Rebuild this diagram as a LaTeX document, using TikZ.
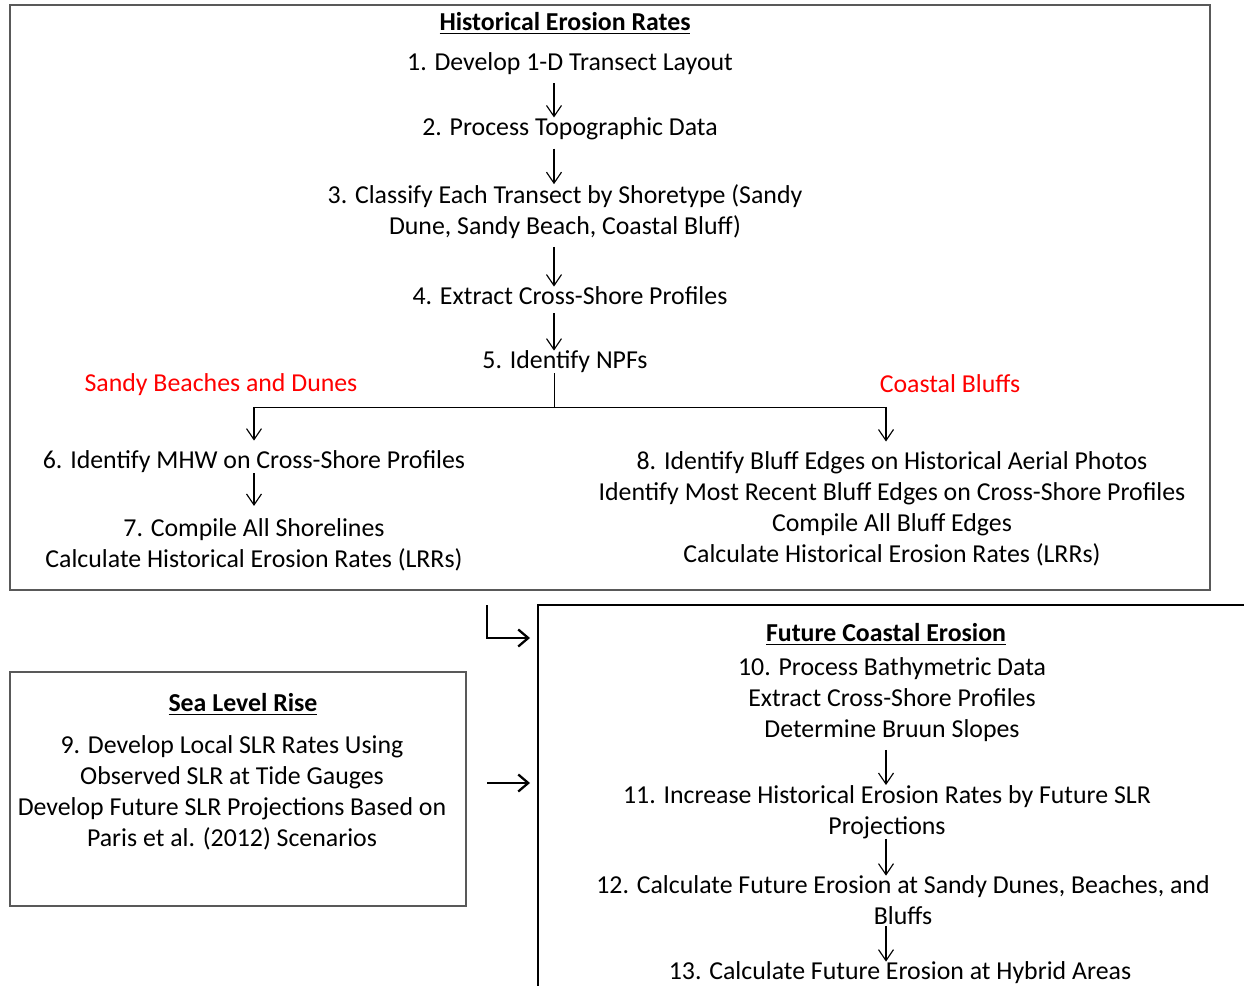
\documentclass[tikz,border=0pt]{standalone}
\usepackage{fontspec}
\setmainfont{Carlito}
\usetikzlibrary{arrows.meta}
\usetikzlibrary{positioning}
\newcommand{\flow}[4][0.16cm]{\draw[arr,shorten <=#1] (#2.south -| #4) -- (#3.north -| #4)}

\begin{document}
\begin{tikzpicture}[x=0.02cm,y=-0.02cm,
    every node/.style={inner sep=0pt, align=center, font=\fontsize{14.7}{17.6}\selectfont},
    arr/.style={-{Straight Barb[length=0.22cm,width=0.3cm]}, line width=0.65pt},
    bigarr/.style={-{Straight Barb[length=0.2cm,width=0.34cm]}, line width=1.3pt},
    side/.style={text=red},
    frame/.style={draw=gray!70!black, line width=0.6pt}]
    \useasboundingbox (0,0) rectangle (1244,986);
    \clip (0,0) rectangle (1244,986);
    % historical erosion rates
    \draw [frame] (10,5) rectangle (1210,590);
    \node (hist) at (565,23) {\underline{\textbf{Historical Erosion Rates}}};
    \node (s1) at (570,64) {1. Develop 1-D Transect Layout};
    \node (s2) at (570,129) {2. Process Topographic Data};
    \node (s3) at (565,211.5) {3. Classify Each Transect by Shoretype (Sandy\\Dune, Sandy Beach, Coastal Bluff)};
    \node (s4) at (570,296) {4. Extract Cross-Shore Profiles};
    \node (s5) at (565,362) {5. Identify NPFs};
    \node [side] (sandy) at (221,385) {Sandy Beaches and Dunes};
    \node [side] (bluffs) at (950,384) {Coastal Bluffs};
    \node (s6) at (254,462) {6. Identify MHW on Cross-Shore Profiles};
    \node (s7) at (254,544.5) {7. Compile All Shorelines\\Calculate Historical Erosion Rates (LRRs)};
    \node (s8) at (892,509) {8. Identify Bluff Edges on Historical Aerial Photos\\Identify Most Recent Bluff Edges on Cross-Shore Profiles\\Compile All Bluff Edges\\Calculate Historical Erosion Rates (LRRs)};
    \coordinate (spine) at (554,0);
    \coordinate (fork) at (554,407);
    \coordinate (forkL) at (254,407);
    \coordinate (forkR) at (886,407);
    \flow{s1}{s2}{spine};
    \flow{s2}{s3}{spine};
    \flow{s3}{s4}{spine};
    \flow{s4}{s5}{spine};
    \draw (s5.south -| spine) -- (fork);
    \draw (forkL) -- (forkR);
    \draw [arr, shorten >=0.2cm] (forkL) -- (s6.north -| forkL);
    \draw [arr, shorten >=0.2cm] (forkR) -- (s8.north -| forkR);
    \draw [arr, shorten >=0.24cm] (s6.south -| forkL) -- (s7.north -| forkL);
    % sea level rise
    \draw [frame] (10,672) rectangle (466,906);
    \node (slr) at (243,704) {\underline{\textbf{Sea Level Rise}}};
    \node (s9) at (232,793) {9. Develop Local SLR Rates Using\\Observed SLR at Tide Gauges\\Develop Future SLR Projections Based on\\Paris et al. (2012) Scenarios};
    % future coastal erosion
    \draw [line width=0.6pt] (538,986) -- (538,605) -- (1244,605);
    \node (fut) at (886,634) {\underline{\textbf{Future Coastal Erosion}}};
    \node (s10) at (892,699.5) {10. Process Bathymetric Data\\Extract Cross-Shore Profiles\\Determine Bruun Slopes};
    \node (s11) at (887,812) {11. Increase Historical Erosion Rates by Future SLR\\Projections};
    \node (s12) at (903,900.5) {12. Calculate Future Erosion at Sandy Dunes, Beaches, and\\Bluffs};
    \node (s13) at (900,973) {13. Calculate Future Erosion at Hybrid Areas};
    \coordinate (spineB) at (886,0);
    \flow{s10}{s11}{spineB};
    \flow[0cm]{s11}{s12}{spineB};
    \flow[0.02cm]{s12}{s13}{spineB};
    % links between the boxes
    \coordinate (outA) at (487,605);
    \coordinate (inA) at (530,638);
    \coordinate (outB) at (487,783);
    \coordinate (inB) at (530,783);
    \draw [bigarr] (outA) |- (inA);
    \draw [bigarr] (outB) -- (inB);
\end{tikzpicture}
\end{document}
